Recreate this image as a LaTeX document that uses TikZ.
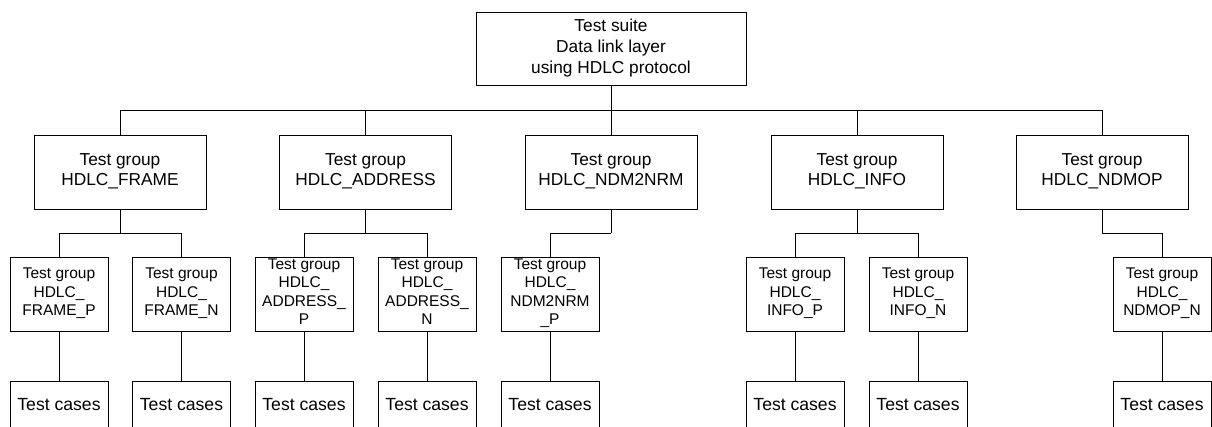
\documentclass[tikz,border=0pt]{standalone}
\usepackage{fontspec}
\setmainfont{Liberation Sans}
\begin{document}
\begin{tikzpicture}[x=1pt,y=-1pt,
  every node/.style={draw=black,line width=0.8pt,inner sep=0pt,align=center},
  topbox/.style={minimum width=270pt,minimum height=73pt,font=\fontsize{17.3}{21}\selectfont,
    execute at begin node={\rule{0pt}{17.7pt}},execute at end node={\rule[-5.2pt]{0pt}{5.2pt}}},
  grpbox/.style={minimum width=172pt,minimum height=74pt,font=\fontsize{17.3}{20.5}\selectfont,
    execute at begin node={\rule{0pt}{17.7pt}},execute at end node={\rule[-5.2pt]{0pt}{5.2pt}}},
  subbox/.style={minimum width=98pt,minimum height=74pt,font=\fontsize{15.5}{18.4}\selectfont,
    execute at begin node={\rule{0pt}{15.8pt}},execute at end node={\rule[-4.6pt]{0pt}{4.6pt}}},
  tcbox/.style={minimum width=98pt,minimum height=46pt,font=\fontsize{17.6}{21}\selectfont,
    execute at begin node={\rule{0pt}{17.9pt}},execute at end node={\rule[-5.2pt]{0pt}{5.2pt}}},
  conn/.style={draw=black,line width=0.8pt}]
\useasboundingbox (0,0) rectangle (1212,426);
\clip (0,0) rectangle (1212,426);
% top
\node[topbox] (top) at (611,48.5) {Test suite\\Data link layer\\using HDLC protocol};
% groups
\node[grpbox] (g1) at (120,172) {Test group\\HDLC\_FRAME};
\node[grpbox] (g2) at (365.5,172) {Test group\\HDLC\_ADDRESS};
\node[grpbox] (g3) at (611,172) {Test group\\HDLC\_NDM2NRM};
\node[grpbox] (g4) at (857,172) {Test group\\HDLC\_INFO};
\node[grpbox] (g5) at (1102,172) {Test group\\HDLC\_NDMOP};
% sub groups
\node[subbox] (s1) at (59,294) {Test group\\HDLC\_\\FRAME\_P};
\node[subbox] (s2) at (181.5,294) {Test group\\HDLC\_\\FRAME\_N};
\node[subbox] (s3) at (304,294) {Test group\\HDLC\_\\ADDRESS\_\\P};
\node[subbox] (s4) at (427,294) {Test group\\HDLC\_\\ADDRESS\_\\N};
\node[subbox] (s5) at (550,294) {Test group\\HDLC\_\\NDM2NRM\\\_P};
\node[subbox] (s6) at (795,294) {Test group\\HDLC\_\\INFO\_P};
\node[subbox] (s7) at (918,294) {Test group\\HDLC\_\\INFO\_N};
\node[subbox] (s8) at (1162,294) {Test group\\HDLC\_\\NDMOP\_N};
% test cases
\foreach \i/\x in {1/59,2/181.5,3/304,4/427,5/550,6/795,7/918,8/1162}{
  \node[tcbox] (t\i) at (\x,404) {Test cases};
}
% connectors
\coordinate (bus) at (611,110);
\draw[conn] (top.south) -- (bus);
\foreach \g in {g1,g2,g3,g4,g5}{\draw[conn] (bus) -| (\g.north);}
\coordinate (b1) at (120,233);
\coordinate (b2) at (365.5,233);
\coordinate (b3) at (611,233);
\coordinate (b4) at (857,233);
\coordinate (b5) at (1102,233);
\draw[conn] (g1.south) -- (b1);
\draw[conn] (b1) -| (s1.north);
\draw[conn] (b1) -| (s2.north);
\draw[conn] (g2.south) -- (b2);
\draw[conn] (b2) -| (s3.north);
\draw[conn] (b2) -| (s4.north);
\draw[conn] (g3.south) -- (b3);
\draw[conn] (b3) -| (s5.north);
\draw[conn] (g4.south) -- (b4);
\draw[conn] (b4) -| (s6.north);
\draw[conn] (b4) -| (s7.north);
\draw[conn] (g5.south) -- (b5);
\draw[conn] (b5) -| (s8.north);
\foreach \i in {1,...,8}{\draw[conn] (s\i.south) -- (t\i.north);}
\end{tikzpicture}
\end{document}
